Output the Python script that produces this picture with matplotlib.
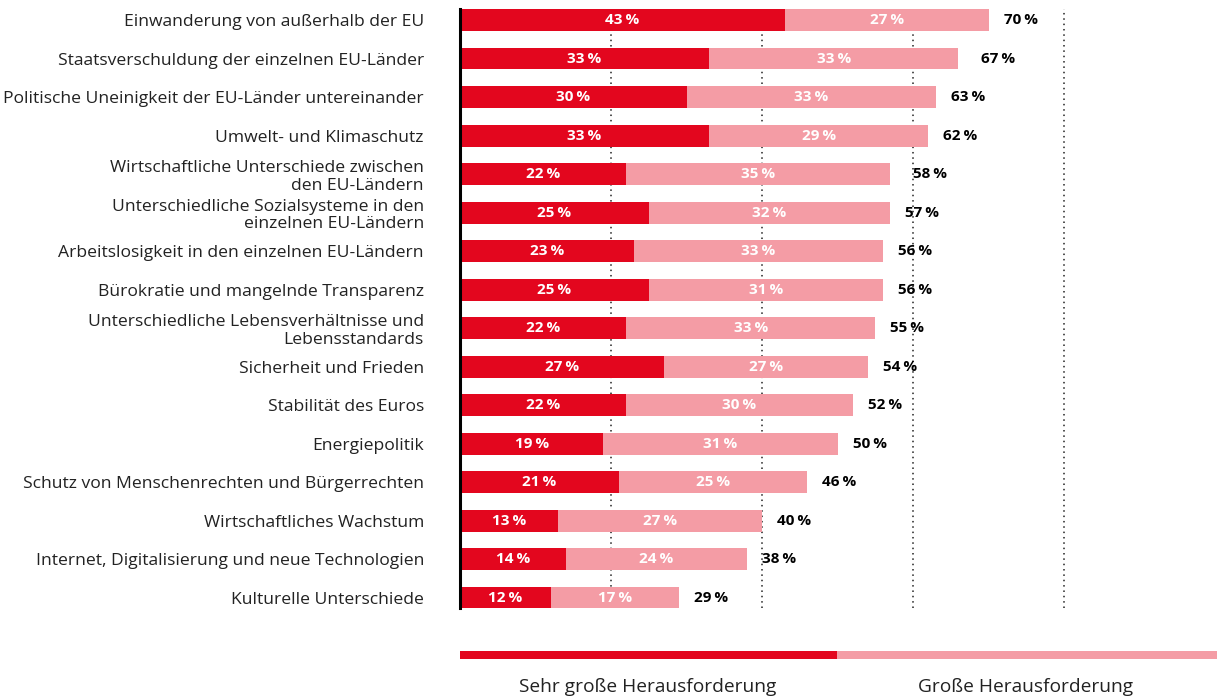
import matplotlib
matplotlib.use('Agg')
import matplotlib.pyplot as plt

plt.rcParams['font.family'] = ['Open Sans', 'DejaVu Sans']

categories = [
    'Einwanderung von außerhalb der EU',
    'Staatsverschuldung der einzelnen EU-Länder',
    'Politische Uneinigkeit der EU-Länder untereinander',
    'Umwelt- und Klimaschutz',
    'Wirtschaftliche Unterschiede zwischen\nden EU-Ländern',
    'Unterschiedliche Sozialsysteme in den\neinzelnen EU-Ländern',
    'Arbeitslosigkeit in den einzelnen EU-Ländern',
    'Bürokratie und mangelnde Transparenz',
    'Unterschiedliche Lebensverhältnisse und\nLebensstandards',
    'Sicherheit und Frieden',
    'Stabilität des Euros',
    'Energiepolitik',
    'Schutz von Menschenrechten und Bürgerrechten',
    'Wirtschaftliches Wachstum',
    'Internet, Digitalisierung und neue Technologien',
    'Kulturelle Unterschiede',
]
sehr_gross = [43, 33, 30, 33, 22, 25, 23, 25, 22, 27, 22, 19, 21, 13, 14, 12]
gross = [27, 33, 33, 29, 35, 32, 33, 31, 33, 27, 30, 31, 25, 27, 24, 17]
totals = [70, 67, 63, 62, 58, 57, 56, 56, 55, 54, 52, 50, 46, 40, 38, 29]
legend_labels = ['Sehr große Herausforderung', 'Große Herausforderung']

RED = '#e3061e'
PINK = '#f49ca5'
W, H = 1217, 700

fig = plt.figure(figsize=(W / 100, H / 100), dpi=100)
# axes: x 460..1215 px, y 9..608 px
ax = fig.add_axes([460 / W, 1 - 608 / H, 755 / W, 599 / H])

y = list(range(len(categories)))
ax.barh(y, sehr_gross, height=0.57, color=RED, zorder=2)
ax.barh(y, gross, left=sehr_gross, height=0.57, color=PINK, zorder=2)

for i in y:
    ax.text(sehr_gross[i] / 2, i, f'{sehr_gross[i]}\u2009%', ha='center', va='center',
            color='white', fontsize=11, fontweight='bold', zorder=3)
    ax.text(sehr_gross[i] + gross[i] / 2, i, f'{gross[i]}\u2009%', ha='center', va='center',
            color='white', fontsize=11, fontweight='bold', zorder=3)
    ax.text(totals[i] + 2, i, f'{totals[i]}\u2009%', ha='left', va='center',
            color='black', fontsize=11, fontweight='bold', zorder=3)

for gx in [20, 40, 60, 80]:
    ax.axvline(gx, color='#222222', linestyle=(0, (1, 2.5)), linewidth=1.1, zorder=1)

ax.set_xlim(0, 100)
ax.set_ylim(15.26, -0.285)
ax.set_yticks(y)
ax.set_yticklabels(categories, fontsize=12.6, color='#222222', linespacing=1.15)
ax.tick_params(axis='y', length=0, pad=26)
ax.set_xticks([])
for s in ['top', 'right', 'bottom']:
    ax.spines[s].set_visible(False)
ax.spines['left'].set_linewidth(2.2)
ax.spines['left'].set_color('black')

# legend bar
lax = fig.add_axes([460 / W, 1 - 659 / H, 757 / W, 8 / H])
lax.barh([0], [49.8], height=1, color=RED)
lax.barh([0], [50.2], left=[49.8], height=1, color=PINK)
lax.set_xlim(0, 100)
lax.set_ylim(-0.5, 0.5)
lax.axis('off')
fig.text((460 + 836) / 2 / W, 1 - 687 / H, legend_labels[0], ha='center', va='center',
         fontsize=13.8, color='#222222')
fig.text((836 + 1215) / 2 / W, 1 - 687 / H, legend_labels[1], ha='center', va='center',
         fontsize=13.8, color='#222222')

fig.savefig('out.png', dpi=100)
